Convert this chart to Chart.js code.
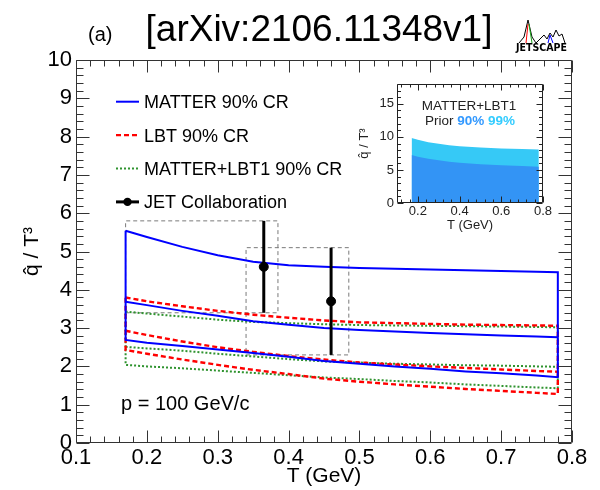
<!DOCTYPE html>
<html><head><meta charset="utf-8">
<script src="https://cdn.jsdelivr.net/npm/chart.js@4.4.1/dist/chart.umd.min.js"></script>
<style>
html,body{margin:0;padding:0;background:#fff;}
#wrap{position:relative;width:600px;height:490px;overflow:hidden;}
#main{position:absolute;left:0;top:0;}
#inset{position:absolute;left:340px;top:70px;}
</style></head><body>
<div id="wrap">
<canvas id="main" width="600" height="490"></canvas>
<canvas id="inset" width="225" height="165"></canvas>
</div>
<script>
// ---------- data ----------
const T = [0.17,0.2,0.25,0.3,0.35,0.4,0.45,0.5,0.55,0.6,0.65,0.7,0.75,0.78];
const matterUpper = [5.54,5.38,5.12,4.90,4.73,4.64,4.60,4.57,4.55,4.53,4.51,4.49,4.47,4.46];
const matterMid   = [3.69,3.60,3.45,3.32,3.18,3.09,3.00,2.95,2.91,2.87,2.84,2.81,2.78,2.76];
const matterLower = [2.69,2.62,2.53,2.44,2.35,2.25,2.14,2.07,2.00,1.94,1.87,1.82,1.76,1.72];
const lbtUpper    = [3.80,3.70,3.57,3.45,3.35,3.27,3.20,3.15,3.13,3.11,3.09,3.08,3.07,3.06];
const lbtMid      = [2.93,2.82,2.65,2.50,2.38,2.27,2.18,2.10,2.05,2.00,1.96,1.92,1.88,1.86];
const lbtLower    = [2.43,2.33,2.18,2.04,1.91,1.80,1.68,1.60,1.53,1.47,1.41,1.36,1.31,1.28];
const combUpper   = [3.43,3.38,3.30,3.22,3.16,3.13,3.10,3.08,3.07,3.06,3.05,3.04,3.03,3.02];
const combMid     = [2.51,2.47,2.41,2.33,2.26,2.19,2.13,2.10,2.07,2.05,2.03,2.02,2.00,1.99];
const combLower   = [2.04,2.00,1.95,1.89,1.83,1.77,1.71,1.67,1.62,1.58,1.53,1.49,1.45,1.43];

const jetT    = [0.365, 0.46];
const jetVal  = [4.6, 3.7];
const jetLow  = [3.4, 2.3];
const jetHigh = [5.8, 5.1];
const boxTmin = [0.17, 0.34];
const boxTmax = [0.385, 0.485];

const xTicks = [0.1,0.2,0.3,0.4,0.5,0.6,0.7,0.8];
const yTicks = [0,1,2,3,4,5,6,7,8,9,10];
const legendLabels = ['MATTER 90% CR','LBT 90% CR','MATTER+LBT1 90% CR','JET Collaboration'];

const insetT  = [0.17,0.2,0.25,0.3,0.35,0.4,0.5,0.6,0.7,0.78];
const prior99 = [9.85,9.55,9.20,8.95,8.75,8.60,8.40,8.25,8.15,8.10];
const prior90 = [7.25,7.00,6.70,6.45,6.25,6.10,5.85,5.70,5.60,5.50];
const insetXTicks = [0.2,0.4,0.6,0.8];
const insetYTicks = [0,5,10,15];

// ---------- style ----------
const FONT = '"Liberation Sans", Arial, Helvetica, sans-serif';
const BLUE = '#0000ff', RED = '#ff0000', GREEN = '#2f932f';

function closed(up, lo){
  const p = T.map((t,i)=>({x:t,y:up[i]}));
  for(let i=T.length-1;i>=0;i--) p.push({x:T[i],y:lo[i]});
  p.push({x:T[0],y:up[0]});
  return p;
}
function line(v){ return T.map((t,i)=>({x:t,y:v[i]})); }
function ds(data, color, width, dash, extra){
  return Object.assign({data, borderColor:color, backgroundColor:color, borderWidth:width,
    borderDash:dash, showLine:true, pointRadius:0, pointHoverRadius:0, fill:false, tension:0}, extra||{});
}

const datasets = [];
datasets.push({data: jetT.map((t,i)=>({x:t,y:jetVal[i]})), showLine:false, pointRadius:4.5,
  pointBackgroundColor:'#000', pointBorderColor:'#000', borderColor:'#000', pointHoverRadius:0});
jetT.forEach((t,i)=>datasets.push(ds([{x:t,y:jetLow[i]},{x:t,y:jetHigh[i]}], '#000', 3, [])));
datasets.push(ds(closed(matterUpper, matterLower), BLUE, 2, []));
datasets.push(ds(line(matterMid), BLUE, 2, []));
datasets.push(ds(closed(lbtUpper, lbtLower), RED, 2.4, [5,3]));
datasets.push(ds(line(lbtMid), RED, 2.4, [5,3]));
datasets.push(ds(closed(combUpper, combLower), GREEN, 2, [2,2]));
datasets.push(ds(line(combMid), GREEN, 2, [2,2]));
boxTmin.forEach((t0,i)=>{
  const t1 = boxTmax[i], lo = jetLow[i], hi = jetHigh[i];
  datasets.push(ds([{x:t0,y:lo},{x:t1,y:lo},{x:t1,y:hi},{x:t0,y:hi},{x:t0,y:lo}], '#7a7a7a', 1, [4,3]));
});

function drawFrame(chart, c){
  const {ctx, chartArea:a, scales:{x, y}} = chart;
  ctx.save();
  ctx.strokeStyle = c.color; ctx.lineWidth = 1; ctx.setLineDash([]);
  const L = Math.round(a.left)+0.5, R = Math.round(a.right)-0.5, Tp = Math.round(a.top)+0.5, B = Math.round(a.bottom)-0.5;
  ctx.beginPath();
  ctx.rect(L, Tp, R-L, B-Tp);
  const rx = Math.round(c.xMajor/c.xMinor);
  for(let k=Math.ceil(x.min/c.xMinor-1e-9); k<=Math.floor(x.max/c.xMinor+1e-9); k++){
    const px = Math.round(x.getPixelForValue(k*c.xMinor))+0.5;
    const len = (k % rx === 0) ? c.xMajLen : c.xMinLen;
    ctx.moveTo(px,B); ctx.lineTo(px,B-len);
    ctx.moveTo(px,Tp); ctx.lineTo(px,Tp+len);
  }
  const ry = Math.round(c.yMajor/c.yMinor);
  for(let k=Math.ceil(y.min/c.yMinor-1e-9); k<=Math.floor(y.max/c.yMinor+1e-9); k++){
    const py = Math.round(y.getPixelForValue(k*c.yMinor))+0.5;
    const len = (k % ry === 0) ? c.yMajLen : c.yMinLen;
    ctx.moveTo(L,py); ctx.lineTo(L+len,py);
    ctx.moveTo(R,py); ctx.lineTo(R-len,py);
  }
  ctx.stroke();
  ctx.restore();
}

const mainDecor = {
  id:'mainDecor',
  afterDatasetsDraw(chart){
    drawFrame(chart, {color:'#333', xMajor:0.1, xMinor:0.02, yMajor:1, yMinor:0.2,
      xMajLen:12, xMinLen:6, yMajLen:13, yMinLen:7});
  },
  afterDraw(chart){
    const ctx = chart.ctx;
    ctx.save();
    ctx.fillStyle = '#000';
    ctx.textBaseline = 'alphabetic';
    // header
    ctx.font = '37px ' + FONT; ctx.textAlign = 'center';
    ctx.fillText('[arXiv:2106.11348v1]', 319, 41);
    ctx.font = '20px ' + FONT; ctx.textAlign = 'left';
    ctx.fillText('(a)', 88, 41);
    // annotation
    ctx.fillText('p = 100 GeV/c', 121, 410);
    // JETSCAPE logo
    ctx.font = 'bold 9px "DejaVu Sans", ' + FONT;
    const w = ctx.measureText('JETSCAPE').width;
    ctx.save(); ctx.translate(516, 51); ctx.scale(51/w, 1.1); ctx.fillText('JETSCAPE', 0, 0); ctx.restore();
    ctx.lineWidth = 1;
    const peaks = [[519,43],[524,37],[528,20],[532,37],[536,43],[540,39],[544,35],[547,39],[550,33],[553,37],[556,30],[559,36],[562,34],[565,43]];
    ctx.strokeStyle = '#000'; ctx.beginPath(); peaks.forEach((p,i)=> i? ctx.lineTo(p[0],p[1]) : ctx.moveTo(p[0],p[1])); ctx.stroke();
    ctx.strokeStyle = RED; ctx.beginPath(); ctx.moveTo(526,43); ctx.lineTo(528,24); ctx.stroke();
    ctx.strokeStyle = '#1aa31a'; ctx.beginPath(); ctx.moveTo(529,24); ctx.lineTo(532,43); ctx.stroke();
    ctx.strokeStyle = BLUE; ctx.beginPath(); ctx.moveTo(548,43); ctx.lineTo(550,35); ctx.lineTo(553,43); ctx.stroke();
    // legend
    const styles = [[BLUE,2,[]],[RED,2.4,[5,3]],[GREEN,2,[2,2]],['#000',3,[]]];
    legendLabels.forEach((lab,i)=>{
      const yy = 101.7 + i*33.4;
      const [c,wd,dash] = styles[i];
      ctx.strokeStyle = c; ctx.lineWidth = wd; ctx.setLineDash(dash);
      ctx.beginPath(); ctx.moveTo(116,yy); ctx.lineTo(139,yy); ctx.stroke();
      ctx.setLineDash([]);
      if(i===3){ ctx.fillStyle='#000'; ctx.beginPath(); ctx.arc(127.5,yy,4.2,0,Math.PI*2); ctx.fill(); }
      ctx.fillStyle = '#000'; ctx.font = '18px ' + FONT; ctx.textAlign='left';
      ctx.fillText(lab, 144, yy+6.4);
    });
    ctx.restore();
  }
};

new Chart(document.getElementById('main'), {
  type:'scatter',
  data:{datasets},
  options:{
    responsive:false, animation:false, devicePixelRatio:1,
    layout:{padding:{top:60,right:28,left:0,bottom:0}},
    plugins:{legend:{display:false}, tooltip:{enabled:false}},
    scales:{
      x:{type:'linear', min:0.1, max:0.8,
        afterBuildTicks:s=>{ s.ticks = xTicks.map(v=>({value:v})); },
        afterFit:s=>{ s.height = 47; },
        grid:{display:false, drawTicks:false}, border:{display:false},
        ticks:{font:{family:FONT,size:22}, color:'#000', padding:2, maxRotation:0, autoSkip:false,
          callback:v=>Number(v).toFixed(1)},
        title:{display:true, text:'T (GeV)', color:'#000', font:{family:FONT,size:21}, padding:{top:0,bottom:1}}
      },
      y:{type:'linear', min:0, max:10,
        afterBuildTicks:s=>{ s.ticks = yTicks.map(v=>({value:v})); },
        afterFit:s=>{ s.width = 76; },
        grid:{display:false, drawTicks:false}, border:{display:false},
        ticks:{font:{family:FONT,size:22}, color:'#000', padding:4, autoSkip:false,
          callback:v=>String(v)},
        title:{display:true, text:'q\u0302 / T\u00b3', color:'#000', font:{family:FONT,size:21}, padding:{top:20,bottom:0}}
      }
    }
  },
  plugins:[mainDecor]
});

// ---------- inset ----------
const insetDecor = {
  id:'insetDecor',
  afterDatasetsDraw(chart){
    drawFrame(chart, {color:'#222', xMajor:0.2, xMinor:0.04, yMajor:5, yMinor:1,
      xMajLen:6, xMinLen:3, yMajLen:6, yMinLen:3.5});
  },
  afterDraw(chart){
    const ctx = chart.ctx;
    ctx.save();
    ctx.textBaseline='alphabetic';
    ctx.fillStyle = '#222'; ctx.font = '13.5px ' + FONT; ctx.textAlign='center';
    ctx.fillText('MATTER+LBT1', 129, 39.5);
    const parts = [['Prior ', '13.5px ', '#222'], ['90%', 'bold 13.5px ', '#3399ff'], [' ', '13.5px ', '#222'], ['99%', 'bold 13.5px ', '#33ccff']];
    let tw = 0; parts.forEach(p=>{ ctx.font = p[1]+FONT; tw += ctx.measureText(p[0]).width; });
    let xx = 130 - tw/2; ctx.textAlign='left';
    parts.forEach(p=>{ ctx.font = p[1]+FONT; ctx.fillStyle = p[2]; ctx.fillText(p[0], xx, 54.5); xx += ctx.measureText(p[0]).width; });
    ctx.restore();
  }
};

new Chart(document.getElementById('inset'), {
  type:'scatter',
  data:{datasets:[
    {data: insetT.map((t,i)=>({x:t,y:prior90[i]})), showLine:true, fill:'origin', borderWidth:0,
      borderColor:'#3394f5', backgroundColor:'#3394f5', pointRadius:0, pointHoverRadius:0, order:0},
    {data: insetT.map((t,i)=>({x:t,y:prior99[i]})), showLine:true, fill:'origin', borderWidth:0,
      borderColor:'#36c9f6', backgroundColor:'#36c9f6', pointRadius:0, pointHoverRadius:0, order:1}
  ]},
  options:{
    responsive:false, animation:false, devicePixelRatio:1,
    layout:{padding:{top:14,right:22,left:0,bottom:0}},
    plugins:{legend:{display:false}, tooltip:{enabled:false}, filler:{propagate:false}},
    scales:{
      x:{type:'linear', min:0.1, max:0.8,
        afterBuildTicks:s=>{ s.ticks = insetXTicks.map(v=>({value:v})); },
        afterFit:s=>{ s.height = 32; },
        grid:{display:false, drawTicks:false}, border:{display:false},
        ticks:{font:{family:FONT,size:13}, color:'#222', padding:1, maxRotation:0, autoSkip:false,
          callback:v=>Number(v).toFixed(1)},
        title:{display:true, text:'T (GeV)', color:'#222', font:{family:FONT,size:13}, padding:{top:0,bottom:2}}
      },
      y:{type:'linear', min:0, max:18,
        afterBuildTicks:s=>{ s.ticks = insetYTicks.map(v=>({value:v})); },
        afterFit:s=>{ s.width = 57; },
        grid:{display:false, drawTicks:false}, border:{display:false},
        ticks:{font:{family:FONT,size:13}, color:'#222', padding:3, autoSkip:false, callback:v=>String(v)},
        title:{display:true, text:'q\u0302 / T\u00b3', color:'#222', font:{family:FONT,size:13}, padding:{top:17,bottom:0}}
      }
    }
  },
  plugins:[insetDecor]
});
</script>
</body></html>
